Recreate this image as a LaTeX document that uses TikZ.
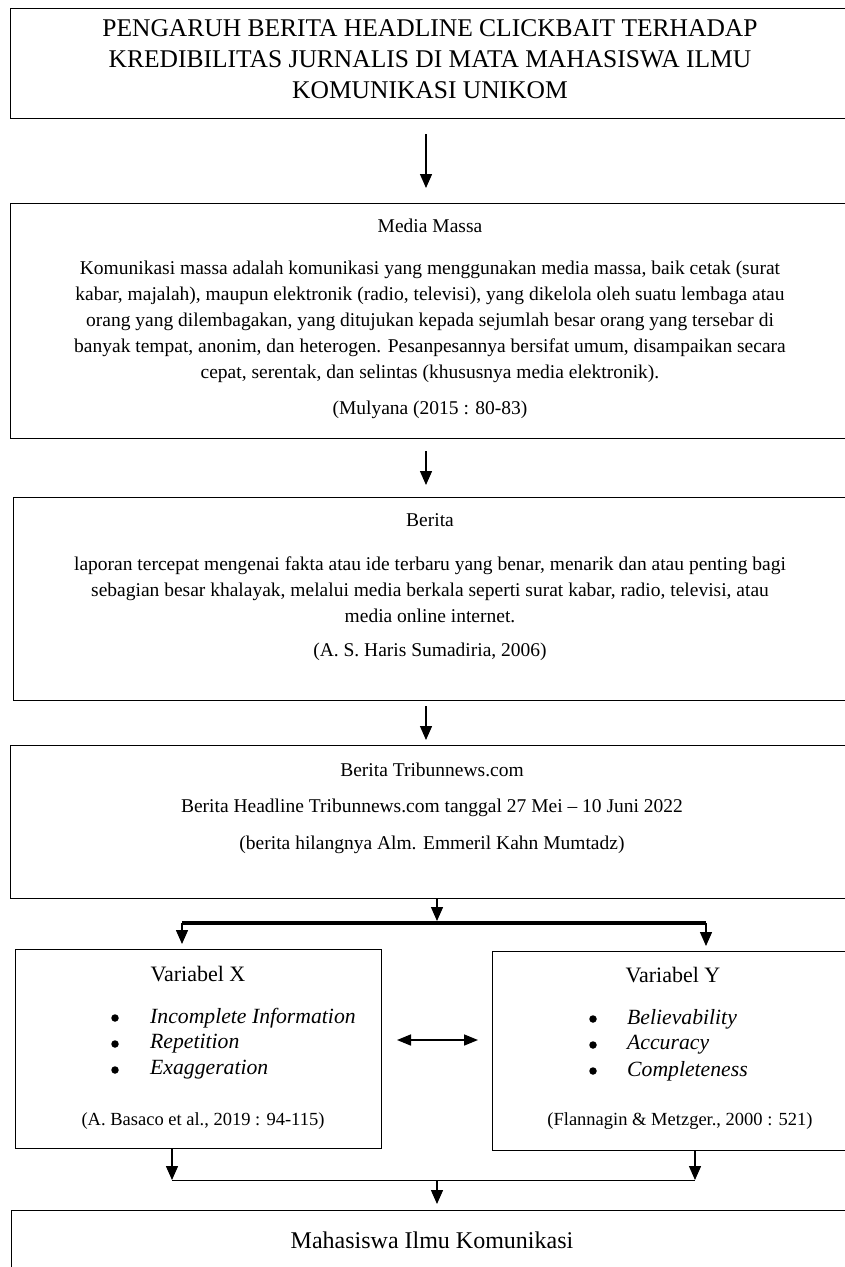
\documentclass[tikz,border=0pt]{standalone}
\usepackage{fontspec}
\setmainfont{Liberation Serif}
\usetikzlibrary{arrows.meta}
\begin{document}
\begin{tikzpicture}[x=1pt,y=-1pt,
  box/.style={draw, line width=1.4pt, anchor=north west, inner sep=0pt},
  txt/.style={inner sep=0pt, align=center, font=\fontsize{19.5}{26}\selectfont},
  ttl/.style={inner sep=0pt, align=center, font=\fontsize{25.5}{31}\selectfont},
  vhead/.style={inner sep=0pt, font=\fontsize{22}{26}\selectfont},
  cite/.style={inner sep=0pt, font=\fontsize{18.5}{22}\selectfont},
  itm/.style={inner sep=0pt, anchor=west, font=\fontsize{21.7}{26}\selectfont\itshape},
  bul/.style={circle, fill, inner sep=0pt, minimum size=7.5pt},
  arr/.style={line width=1.4pt, -{Triangle[length=14pt,width=12pt]}},
  darr/.style={line width=1.6pt, {Triangle[length=14pt,width=11pt]}-{Triangle[length=14pt,width=11pt]}}
]
\useasboundingbox (0,0) rectangle (845,1267);
\clip (0,0) rectangle (845,1267);

% boxes
\node[box, minimum width=845pt, minimum height=110pt] (title) at (10,8) {};
\node[box, minimum width=845pt, minimum height=235pt] (media) at (10,203) {};
\node[box, minimum width=845pt, minimum height=203pt] (berita) at (13,497) {};
\node[box, minimum width=845pt, minimum height=153pt] (tribun) at (10,745) {};
\node[box, minimum width=366pt, minimum height=199pt] (varx) at (15,949) {};
\node[box, minimum width=362pt, minimum height=199pt] (vary) at (492,951) {};
\node[box, minimum width=845pt, minimum height=100pt] (mhs) at (11,1210) {};

% texts
\node[ttl] (ttext) at (430,59) {PENGARUH BERITA HEADLINE CLICKBAIT TERHADAP\\KREDIBILITAS JURNALIS DI MATA MAHASISWA ILMU\\KOMUNIKASI UNIKOM};

\node[txt] (mhead) at (430,226) {Media Massa};
\node[txt] (mbody) at (430,322) {Komunikasi massa adalah komunikasi yang menggunakan media massa, baik cetak (surat\\kabar, majalah), maupun elektronik (radio, televisi), yang dikelola oleh suatu lembaga atau\\orang yang dilembagakan, yang ditujukan kepada sejumlah besar orang yang tersebar di\\banyak tempat, anonim, dan heterogen. Pesanpesannya bersifat umum, disampaikan secara\\cepat, serentak, dan selintas (khususnya media elektronik).};
\node[txt] (mcite) at (430,410) {(Mulyana (2015 : 80-83)};

\node[txt] (bhead) at (430,520) {Berita};
\node[txt] (bbody) at (430,590) {laporan tercepat mengenai fakta atau ide terbaru yang benar, menarik dan atau penting bagi\\sebagian besar khalayak, melalui media berkala seperti surat kabar, radio, televisi, atau\\media online internet.};
\node[txt] (bcite) at (430,652) {(A. S. Haris Sumadiria, 2006)};

\node[txt] (thead) at (432,770) {Berita Tribunnews.com};
\node[txt] (tline) at (432,808) {Berita Headline Tribunnews.com tanggal 27 Mei – 10 Juni 2022};
\node[txt] (tcite) at (432,845) {(berita hilangnya Alm. Emmeril Kahn Mumtadz)};

\node[vhead] (xhead) at (198,974) {Variabel X};
\node[bul] (xb1) at (115,1018) {};
\node[itm] (xi1) at (150,1018) {Incomplete Information};
\node[bul] (xb2) at (115,1044) {};
\node[itm] (xi2) at (150,1044) {Repetition};
\node[bul] (xb3) at (115,1070) {};
\node[itm] (xi3) at (150,1070) {Exaggeration};
\node[cite] (xcite) at (203,1121) {(A. Basaco et al., 2019 : 94-115)};

\node[vhead] (yhead) at (673,975) {Variabel Y};
\node[bul] (yb1) at (593,1019) {};
\node[itm] (yi1) at (627,1019) {Believability};
\node[bul] (yb2) at (593,1045) {};
\node[itm] (yi2) at (627,1045) {Accuracy};
\node[bul] (yb3) at (593,1071) {};
\node[itm] (yi3) at (627,1071) {Completeness};
\node[cite] (ycite) at (680,1121) {(Flannagin \& Metzger., 2000 : 521)};

\node[font=\fontsize{24}{28}\selectfont, inner sep=0pt] (mtext) at (432,1240) {Mahasiswa Ilmu Komunikasi};

% coordinates for connectors
\coordinate (ax) at (426,0);
\coordinate (cx) at (437,0);
\coordinate (jl) at (182,923);
\coordinate (jr) at (706,923);
\coordinate (jc) at (437,923);
\coordinate (bl) at (172,1180);
\coordinate (br) at (695,1180);
\coordinate (bc) at (437,1180);
\coordinate (dl) at (397,1040);
\coordinate (dr) at (478,1040);

% connectors
\draw[arr, shorten <=15pt, shorten >=15pt] (title.south -| ax) -- (media.north -| ax);
\draw[arr, shorten <=12pt, shorten >=12pt] (media.south -| ax) -- (berita.north -| ax);
\draw[arr, shorten <=5pt, shorten >=5pt] (berita.south -| ax) -- (tribun.north -| ax);
\draw[arr, shorten >=2pt] (tribun.south -| cx) -- (jc);
\draw[line width=4pt] (jl) -- (jr);
\draw[arr, shorten >=5pt] (jl) -- (varx.north -| jl);
\draw[arr, shorten >=5pt] (jr) -- (vary.north -| jr);
\draw[darr] (dl) -- (dr);
\draw[arr] (varx.south -| bl) -- (bl);
\draw[arr] (vary.south -| br) -- (br);
\draw[line width=1pt] (bl) -- (br);
\draw[arr, shorten >=6pt] (bc) -- (mhs.north -| bc);
\end{tikzpicture}
\end{document}
